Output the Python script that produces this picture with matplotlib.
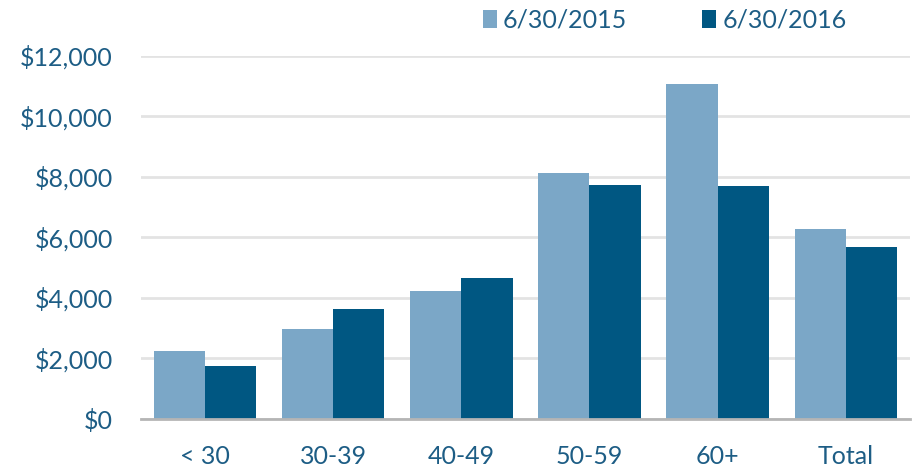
import numpy as np
import matplotlib.pyplot as plt

plt.rcParams['font.family'] = ['Lato', 'DejaVu Sans']

categories = ["< 30", "30-39", "40-49", "50-59", "60+", "Total"]
series_names = ["6/30/2015", "6/30/2016"]
values_2015 = [2230, 2960, 4240, 8140, 11080, 6280]
values_2016 = [1750, 3640, 4670, 7740, 7700, 5670]
y_ticks = [0, 2000, 4000, 6000, 8000, 10000, 12000]

light = '#7ba7c7'
dark = '#005782'
text_color = '#1d5d85'

fig = plt.figure(figsize=(9.2, 4.69), dpi=100)
ax = fig.add_axes([0.153, 0.107, 0.836, 0.774])

x = np.arange(len(categories))
w = 0.4
ax.bar(x - w / 2, values_2015, w, color=light, label=series_names[0], zorder=3)
ax.bar(x + w / 2, values_2016, w, color=dark, label=series_names[1], zorder=3)

ax.set_xlim(-0.5, len(categories) - 0.5)
ax.set_ylim(0, 12000)
ax.set_yticks(y_ticks)
ax.set_yticklabels(["${:,}".format(v) for v in y_ticks])
ax.set_xticks(x)
ax.set_xticklabels(categories)
ax.tick_params(axis='both', length=0, labelsize=18, colors=text_color)
ax.tick_params(axis='x', pad=19)
ax.tick_params(axis='y', pad=20)

ax.grid(axis='y', color='#e3e3e3', linewidth=2, zorder=0)
for s in ['top', 'right', 'left']:
    ax.spines[s].set_visible(False)
ax.spines['bottom'].set_color('#b5b5b5')
ax.spines['bottom'].set_linewidth(2)
ax.spines['bottom'].set_zorder(4)

leg = ax.legend(loc='upper left', bbox_to_anchor=(0.445, 1.13), ncol=2, frameon=False,
                fontsize=18, handlelength=0.55, handleheight=0.75, handletextpad=0.25,
                columnspacing=3.0, borderpad=0, borderaxespad=0)
for t in leg.get_texts():
    t.set_color(text_color)

fig.savefig("out.png", dpi=100)
